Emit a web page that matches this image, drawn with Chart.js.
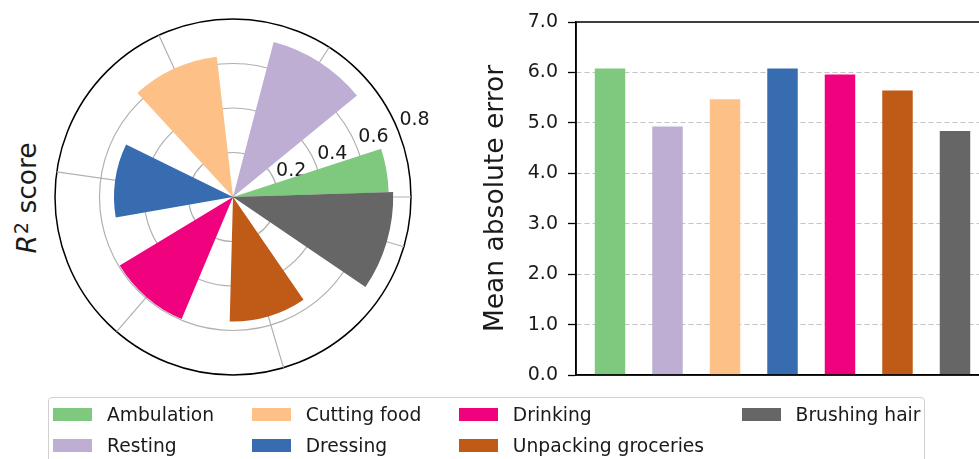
<!DOCTYPE html>
<html>
<head>
<meta charset="utf-8">
<script src="https://cdn.jsdelivr.net/npm/chart.js@4"></script>
<style>
  html, body { margin: 0; padding: 0; background: #fff; }
  body { width: 979px; height: 459px; overflow: hidden; position: relative; font-family: "DejaVu Sans", sans-serif; color: #1a1a1a; }
  #polar { position: absolute; left: 43px; top: 7px; }
  #bars { position: absolute; left: 470px; top: 0; }
  .ylabel {
    position: absolute; left: 27px; top: 198px; white-space: nowrap;
    font-size: 26.5px; line-height: 1;
    transform: translate(-50%, -50%) rotate(-90deg);
  }
  .ylabel i { font-style: italic; }
  .ylabel sup { font-size: 0.72em; vertical-align: 0.4em; line-height: 0; margin-left: 1px; }
  .legend {
    position: absolute; left: 48px; top: 397px; width: 877px; height: 80px;
    border: 1px solid #d0d0d0; border-radius: 4px; box-sizing: border-box;
    display: grid; grid-template-rows: 31px 31px; grid-auto-flow: column;
    grid-auto-columns: max-content; column-gap: 37.5px;
    padding: 1px 0 0 4px;
    font-size: 18.7px;
  }
  .legend .item { display: flex; align-items: center; }
  .legend .sw { width: 39px; height: 13px; margin-right: 15px; }
</style>
</head>
<body>
<canvas id="polar" width="420" height="380"></canvas>
<div class="ylabel"><i>R</i><sup>2</sup> score</div>
<canvas id="bars" width="540" height="400"></canvas>
<div class="legend" id="legend"></div>
<script>
const categories = ['Ambulation', 'Resting', 'Cutting food', 'Dressing', 'Drinking', 'Unpacking groceries', 'Brushing hair'];
const r2Scores = [0.70, 0.72, 0.635, 0.535, 0.595, 0.56, 0.72];
const maeValues = [6.08, 4.93, 5.47, 6.08, 5.96, 5.64, 4.84];
const colors = ['#7fc97f', '#beaed4', '#fdc086', '#386cb0', '#f0027f', '#bf5b17', '#666666'];

// polar axis: bars sit at 0,1,2.. radians, radial ticks every 0.2
const barThetaRad = categories.map((_, i) => i);
const polarBarWidthDeg = 36;
const rTicks = [0.2, 0.4, 0.6, 0.8];
const r2Max = 0.8;
const rLabelAngleDeg = 22.5;

// bar axis
const maeTicks = [0, 1, 2, 3, 4, 5, 6, 7];
const barWidth = 0.53;

Chart.defaults.font.family = '"DejaVu Sans", sans-serif';
Chart.defaults.color = '#1a1a1a';

// Chart.js lays polar arcs one after another (clockwise), so turn the
// bar centres into a run of arcs with empty spacers in between.
function buildPolarSegments() {
    const half = polarBarWidthDeg / 2;
    const bars = categories.map((name, i) => {
        let phi = -barThetaRad[i] * 180 / Math.PI;
        phi = ((phi % 360) + 360) % 360;
        return { i, start: phi - half, end: phi + half };
    }).sort((a, b) => a.start - b.start);
    const origin = bars[0].start;
    const segs = [];
    let cursor = origin;
    bars.forEach((b, k) => {
        const next = k + 1 < bars.length ? bars[k + 1].start : origin + 360;
        const end = Math.min(b.end, next); // later bar is drawn on top of the overlap
        segs.push({ label: categories[b.i], value: r2Scores[b.i], color: colors[b.i], angle: end - cursor });
        cursor = end;
        if (next > cursor + 1e-6) {
            segs.push({ label: '', value: 0, color: 'rgba(0,0,0,0)', angle: next - cursor });
            cursor = next;
        }
    });
    return { startAngle: origin + 90, segs };
}

const polarDecor = {
    id: 'polarDecor',
    beforeDatasetsDraw(chart) {
        const r = chart.scales.r;
        const ctx = chart.ctx;
        const cx = r.xCenter, cy = r.yCenter;
        const outer = r.getDistanceFromCenterForValue(r2Max);
        ctx.save();
        ctx.strokeStyle = '#b0b0b0';
        ctx.lineWidth = 1.2;
        barThetaRad.forEach(t => {
            ctx.beginPath();
            ctx.moveTo(cx, cy);
            ctx.lineTo(cx + outer * Math.cos(t), cy - outer * Math.sin(t));
            ctx.stroke();
        });
        ctx.fillStyle = '#1a1a1a';
        ctx.font = '19px "DejaVu Sans"';
        ctx.textAlign = 'left';
        ctx.textBaseline = 'alphabetic';
        const a = rLabelAngleDeg * Math.PI / 180;
        rTicks.forEach(v => {
            const d = r.getDistanceFromCenterForValue(v);
            ctx.fillText(v.toFixed(1), cx + d * Math.cos(a) + 2, cy - d * Math.sin(a) - 4);
        });
        ctx.restore();
    }
};

const polar = buildPolarSegments();
new Chart(document.getElementById('polar'), {
    type: 'polarArea',
    data: {
        labels: polar.segs.map(s => s.label),
        datasets: [{
            data: polar.segs.map(s => s.value),
            backgroundColor: polar.segs.map(s => s.color),
            borderWidth: 0,
            angle: (c) => polar.segs[c.dataIndex].angle
        }]
    },
    options: {
        responsive: false,
        animation: false,
        layout: { padding: { left: 12, top: 12, right: 52, bottom: 12 } },
        plugins: { legend: { display: false }, tooltip: { enabled: false } },
        scales: {
            r: {
                min: 0,
                max: r2Max,
                startAngle: polar.startAngle,
                ticks: { display: false, stepSize: 0.2 },
                grid: {
                    circular: true,
                    color: (c) => Math.abs(c.tick.value - r2Max) < 1e-9 ? '#000000' : '#b0b0b0',
                    lineWidth: (c) => Math.abs(c.tick.value - r2Max) < 1e-9 ? 1.5 : 1.2
                },
                angleLines: { display: false },
                pointLabels: { display: false }
            }
        }
    },
    plugins: [polarDecor]
});

// matplotlib style limits: bar extent plus 5% margin
const xLo = -barWidth / 2, xHi = categories.length - 1 + barWidth / 2;
const xPad = 0.05 * (xHi - xLo);

const frame = {
    id: 'frame',
    afterDraw(chart) {
        const { ctx, chartArea: a } = chart;
        ctx.save();
        ctx.strokeStyle = '#000';
        ctx.lineWidth = 1.5;
        ctx.strokeRect(a.left, a.top, a.right - a.left, a.bottom - a.top);
        ctx.restore();
    }
};

new Chart(document.getElementById('bars'), {
    type: 'bar',
    data: {
        datasets: [{
            data: maeValues.map((v, i) => ({ x: i, y: v })),
            backgroundColor: colors,
            borderWidth: 0,
            barPercentage: barWidth,
            categoryPercentage: 1
        }]
    },
    options: {
        responsive: false,
        animation: false,
        layout: { padding: { left: 6, top: 22, right: 21, bottom: 17 } },
        plugins: { legend: { display: false }, tooltip: { enabled: false } },
        scales: {
            x: {
                type: 'linear',
                offset: false,
                min: xLo - xPad,
                max: xHi + xPad,
                ticks: { display: false },
                grid: { display: false },
                border: { color: '#000', width: 1.5 }
            },
            y: {
                min: maeTicks[0],
                max: maeTicks[maeTicks.length - 1],
                afterFit: (s) => { s.width = 100; },
                ticks: {
                    stepSize: 1,
                    padding: 10,
                    color: '#1a1a1a',
                    font: { size: 19 },
                    callback: (v) => v.toFixed(1)
                },
                grid: {
                    color: (c) => (c.tick.value === 0 || c.tick.value === 7) ? 'rgba(0,0,0,0)' : '#c4c4c4',
                    lineWidth: 1,
                    tickLength: 8,
                    tickColor: '#000',
                    tickWidth: 1.3
                },
                border: { color: '#000', width: 1.5, dash: [5, 3] },
                title: {
                    display: true,
                    text: 'Mean absolute error',
                    color: '#1a1a1a',
                    font: { size: 26.5 },
                    padding: { top: 4, bottom: 4 }
                }
            }
        }
    },
    plugins: [frame]
});

// legend, filled column by column like matplotlib ncol=4
const legendEl = document.getElementById('legend');
categories.forEach((name, i) => {
    const item = document.createElement('div');
    item.className = 'item';
    const sw = document.createElement('span');
    sw.className = 'sw';
    sw.style.background = colors[i];
    const txt = document.createElement('span');
    txt.textContent = name;
    item.appendChild(sw);
    item.appendChild(txt);
    legendEl.appendChild(item);
});
</script>
</body>
</html>
